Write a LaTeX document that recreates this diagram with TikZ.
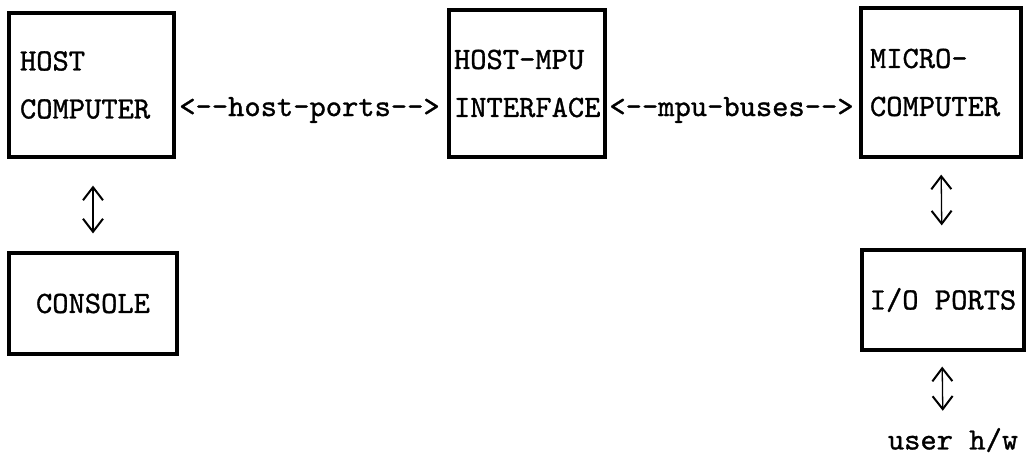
\documentclass[tikz,border=0pt]{standalone}
\usetikzlibrary{arrows.meta}
\font\twfont="[lmmono10-regular.otf]:embolden=1.0" at 31pt
\begin{document}
\begin{tikzpicture}[x=1pt,y=-1pt,
  tw/.style={font={\twfont\baselineskip=48pt}},
  blk/.style={draw, line width=3.2pt, tw, inner ysep=0pt},
  lblk/.style={blk, align=left},
  cblk/.style={blk, align=center},
  lnk/.style={tw, inner sep=0pt},
  vlink/.style={line width=1.3pt, {Straight Barb[length=13pt,width=20pt,line width=2pt,sep=3pt]}-{Straight Barb[length=13pt,width=20pt,line width=2pt,sep=3pt]}}
]
\useasboundingbox (0,0) rectangle (1026,456);
\node[lblk, inner xsep=11pt, text width=143pt, minimum width=165pt, minimum height=144pt] (host) at (91.5,85) {HOST\\COMPUTER};
\node[lblk, inner xsep=5pt, text width=146pt, minimum width=156pt, minimum height=147pt] (hmpu) at (527,83.5) {HOST-MPU\\INTERFACE};
\node[lblk, inner xsep=9pt, text width=142pt, minimum width=160pt, minimum height=149pt] (micro) at (941,82.5) {MICRO-\\COMPUTER};
\node[cblk, minimum width=168pt, minimum height=101pt] (console) at (93,303.5) {CONSOLE};
\node[cblk, minimum width=162pt, minimum height=100pt] (io) at (943,300) {I/O PORTS};
\node[lnk] (user) at (953,440) {user h/w};
\node[lnk] (hp) at (309.5,110) {<--host-ports-->};
\node[lnk] (mb) at (731.5,110) {<--mpu-buses-->};
\draw[vlink, shorten <=24pt, shorten >=15pt] ([xshift=1.5pt]host.south) -- (console.north);
\draw[vlink, shorten <=13pt, shorten >=20pt] (micro.south) -- ([xshift=-1pt]io.north);
\draw[vlink, shorten <=12pt, shorten >=14pt] ([xshift=-1pt]io.south) -- (io.south |- user.north);
\end{tikzpicture}
\end{document}
